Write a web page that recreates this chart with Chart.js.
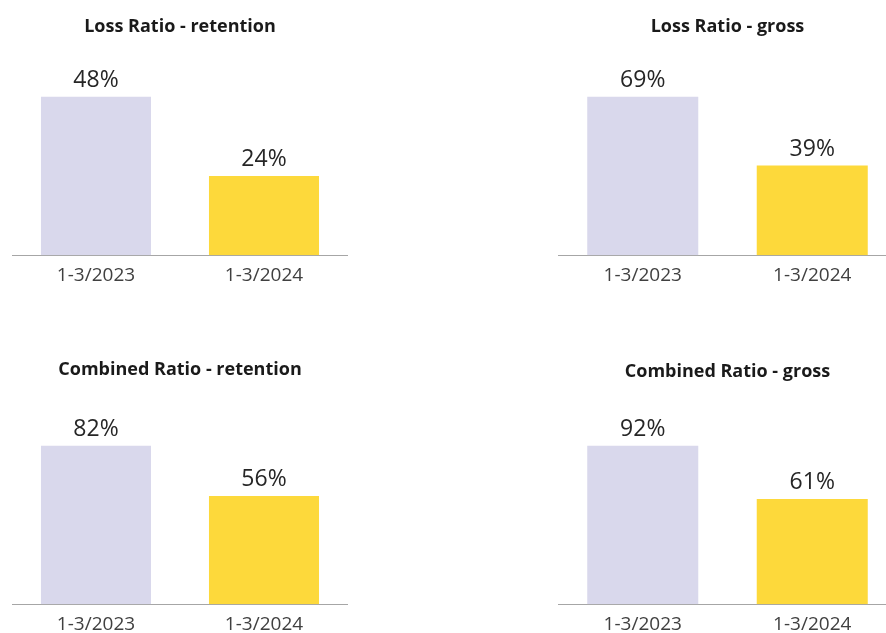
<!DOCTYPE html>
<html>
<head>
<meta charset="utf-8">
<script src="https://cdn.jsdelivr.net/npm/chart.js@4.4.1/dist/chart.umd.min.js"></script>
<style>
    html, body { margin: 0; padding: 0; background: #fff; overflow: hidden; }
    body { width: 886px; height: 633px; position: relative; }
    .box { position: absolute; }
</style>
</head>
<body>
<div class="box" style="left:12px; top:0px; width:336px; height:300px;"><canvas id="lossRet"></canvas></div>
<div class="box" style="left:558px; top:0px; width:339px; height:300px;"><canvas id="lossGross"></canvas></div>
<div class="box" style="left:12px; top:349px; width:336px; height:300px;"><canvas id="combRet"></canvas></div>
<div class="box" style="left:558px; top:349px; width:339px; height:300px;"><canvas id="combGross"></canvas></div>

<script>
var periods = ["1-3/2023", "1-3/2024"];

var lossRetention = [48, 24];
var lossGross = [69, 39];
var combinedRetention = [82, 56];
var combinedGross = [92, 61];

var barColors = ["#d9d8ec", "#fdd93b"];
var FONT = "'Open Sans', 'DejaVu Sans', sans-serif";

// draws the percentage above each bar
var valueLabels = {
    id: 'valueLabels',
    afterDatasetsDraw: function (chart) {
        var ctx = chart.ctx;
        var meta = chart.getDatasetMeta(0);
        var data = chart.data.datasets[0].data;
        ctx.save();
        ctx.font = "23px " + FONT;
        ctx.fillStyle = "#262626";
        ctx.textAlign = "center";
        ctx.textBaseline = "alphabetic";
        meta.data.forEach(function (bar, i) {
            ctx.fillText(data[i] + "%", bar.x, bar.y - 10);
        });
        ctx.restore();
    }
};

function ratioChart(id, title, values, titleTop) {
    var ctx = document.getElementById(id).getContext('2d');
    return new Chart(ctx, {
        type: 'bar',
        data: {
            labels: periods,
            datasets: [{
                data: values,
                backgroundColor: barColors,
                borderWidth: 0,
                barPercentage: 0.655,
                categoryPercentage: 1
            }]
        },
        options: {
            responsive: true,
            maintainAspectRatio: false,
            animation: false,
            layout: {
                padding: { top: titleTop, bottom: 4, left: 0, right: 0 }
            },
            plugins: {
                legend: { display: false },
                tooltip: { enabled: false },
                title: {
                    display: true,
                    text: title,
                    color: "#1a1a1a",
                    font: { family: FONT, size: 18, weight: 'bold', lineHeight: 1.2 },
                    padding: { top: 0, bottom: 75 - titleTop }
                }
            },
            scales: {
                x: {
                    grid: { display: false, drawTicks: false },
                    border: { display: true, color: "#a6a6a6", width: 1 },
                    ticks: {
                        color: "#404040",
                        padding: 9,
                        font: { family: FONT, size: 19, lineHeight: 1.2 }
                    }
                },
                y: {
                    display: false,
                    min: 0,
                    max: Math.max.apply(null, values)
                }
            }
        },
        plugins: [valueLabels]
    });
}

ratioChart('lossRet', "Loss Ratio - retention", lossRetention, 16);
ratioChart('lossGross', "Loss Ratio - gross", lossGross, 16);
ratioChart('combRet', "Combined Ratio - retention", combinedRetention, 10);
ratioChart('combGross', "Combined Ratio - gross", combinedGross, 12);
</script>
</body>
</html>
